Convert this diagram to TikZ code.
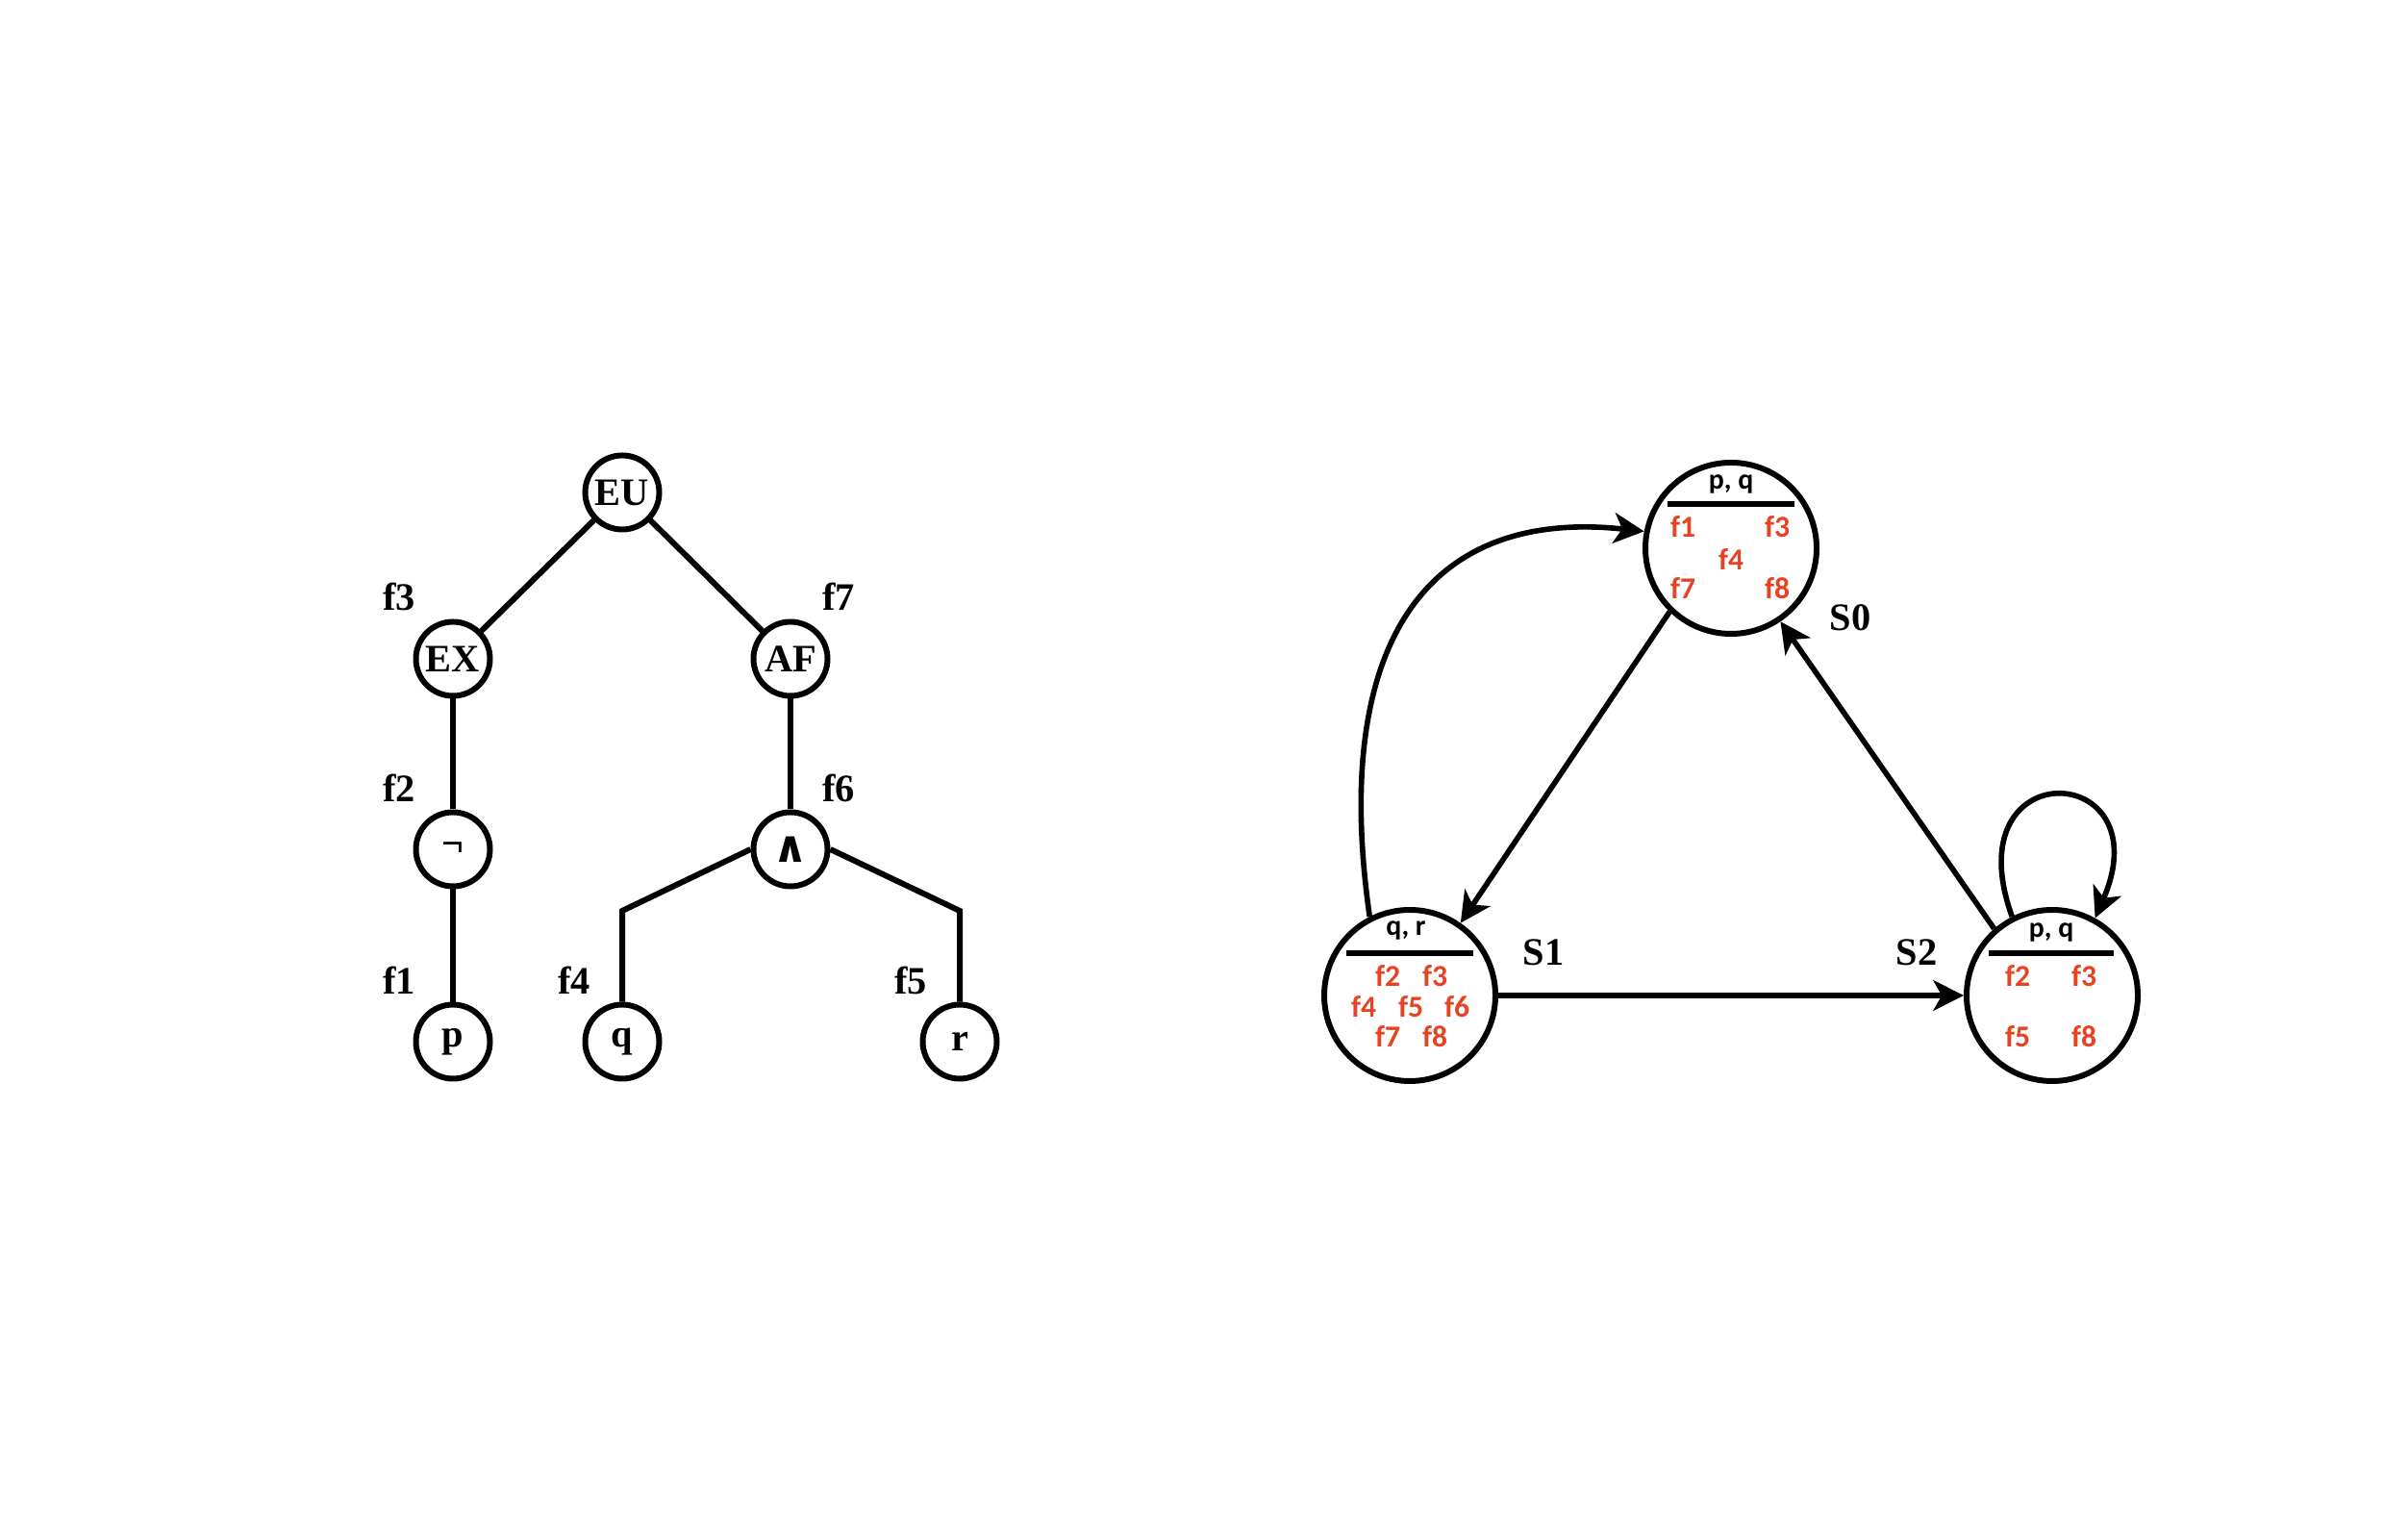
\documentclass[tikz,border=0pt]{standalone}
\usepackage{fontspec}
\setmainfont{Liberation Serif}
\newfontfamily\statefont{Carlito}
\newfontfamily\symfont{DejaVu Sans}
\usepackage{amsmath}
\usepackage{tikz}
\usetikzlibrary{shapes,positioning,arrows.meta}
\usepackage{xcolor}
\definecolor{fred}{RGB}{232,66,36}

\begin{document}
\begin{tikzpicture}[
    opnode/.style={circle, draw, line width=1.7pt, minimum size=0.77cm, inner sep=0pt, font=\fontsize{11.5}{13}\selectfont\bfseries},
    flabel/.style={inner sep=0pt, font=\fontsize{11.5}{13}\selectfont\bfseries},
    state/.style={circle, draw, line width=1.7pt, minimum size=1.78cm, inner sep=0pt},
    prop/.style={inner sep=0pt, font=\statefont\fontsize{8.5}{9}\selectfont\bfseries},
    fset/.style={prop, text=fred, font=\statefont\fontsize{9}{10}\selectfont\bfseries},
    trans/.style={line width=1.6pt, -{Stealth[length=9pt,width=9pt,inset=2.5pt]}}
  ]
  \useasboundingbox (0,0) rectangle (25.04,15.97);

  % parse tree
  \node [opnode] (eu)   at (6.47,10.85) {EU};
  \node [opnode] (ex)   at (4.71,9.12)  {EX};
  \node [opnode] (af)   at (8.22,9.12)  {AF};
  \node [opnode] (neg)  at (4.71,7.14)  {¬};
  \node [opnode] (conj) at (8.22,7.14)  {\symfont\fontsize{13}{14}\selectfont\bfseries ∧};
  \node [opnode] (p)    at (4.71,5.14)  {p};
  \node [opnode] (q)    at (6.47,5.14)  {q};
  \node [opnode] (r)    at (9.98,5.14)  {r};
  \coordinate (qk) at (6.47,6.50);
  \coordinate (rk) at (9.98,6.50);
  \draw [line width=1.7pt] (eu) -- (ex);
  \draw [line width=1.7pt] (eu) -- (af);
  \draw [line width=1.7pt] (ex) -- (neg);
  \draw [line width=1.7pt] (neg) -- (p);
  \draw [line width=1.7pt] (af) -- (conj);
  \draw [line width=1.7pt] (conj.west) -- (qk) -- (q);
  \draw [line width=1.7pt] (conj.east) -- (rk) -- (r);
  \node [flabel] (f3t) at (4.15,9.77) {f3};
  \node [flabel] (f7t) at (8.72,9.77) {f7};
  \node [flabel] (f2t) at (4.15,7.78) {f2};
  \node [flabel] (f6t) at (8.72,7.78) {f6};
  \node [flabel] (f1t) at (4.15,5.78) {f1};
  \node [flabel] (f4t) at (5.97,5.78) {f4};
  \node [flabel] (f5t) at (9.47,5.78) {f5};

  % model
  \node [state] (s0) at (18.00,10.27) {};
  \node [state] (s1) at (14.66,5.62)  {};
  \node [state] (s2) at (21.34,5.62)  {};
  \node [flabel] (s0l) at (19.24,9.55) {S0};
  \node [flabel] (s1l) at (16.05,6.07) {S1};
  \node [flabel] (s2l) at (19.93,6.07) {S2};

  \begin{scope}[shift={(s0.center)}]
    \node [prop] (s0p) at (0,0.67) {p, q};
    \draw [line width=1.6pt] (-0.66,0.46) -- (0.66,0.46);
    \node [fset] (s0f1) at (-0.50,0.22) {f1};
    \node [fset] (s0f3) at (0.48,0.22) {f3};
    \node [fset] (s0f4) at (0,-0.12) {f4};
    \node [fset] (s0f7) at (-0.50,-0.42) {f7};
    \node [fset] (s0f8) at (0.48,-0.42) {f8};
  \end{scope}
  \begin{scope}[shift={(s1.center)}]
    \node [prop] (s1p) at (-0.04,0.68) {q, r};
    \draw [line width=1.6pt] (-0.66,0.44) -- (0.66,0.44);
    \node [fset] (s1f2) at (-0.23,0.20) {f2};
    \node [fset] (s1f3) at (0.26,0.20) {f3};
    \node [fset] (s1f4) at (-0.48,-0.12) {f4};
    \node [fset] (s1f5) at (0.01,-0.12) {f5};
    \node [fset] (s1f6) at (0.49,-0.12) {f6};
    \node [fset] (s1f7) at (-0.23,-0.43) {f7};
    \node [fset] (s1f8) at (0.26,-0.43) {f8};
  \end{scope}
  \begin{scope}[shift={(s2.center)}]
    \node [prop] (s2p) at (-0.01,0.66) {p, q};
    \draw [line width=1.6pt] (-0.66,0.44) -- (0.64,0.44);
    \node [fset] (s2f2) at (-0.36,0.20) {f2};
    \node [fset] (s2f3) at (0.33,0.20) {f3};
    \node [fset] (s2f5) at (-0.36,-0.43) {f5};
    \node [fset] (s2f8) at (0.33,-0.43) {f8};
  \end{scope}

  \draw [trans] (s0.226) -- (s1.55);
  \draw [trans] (s1) -- (s2);
  \draw [trans] (s2.131) -- (s0.304);
  \draw [trans] (s1.117) .. controls (13.85,9.17) and (14.75,10.70) .. (s0.169);
  \draw [trans] (s2.117) .. controls (20.30,8.17) and (22.50,8.07) .. (s2.61);
\end{tikzpicture}
\end{document}
